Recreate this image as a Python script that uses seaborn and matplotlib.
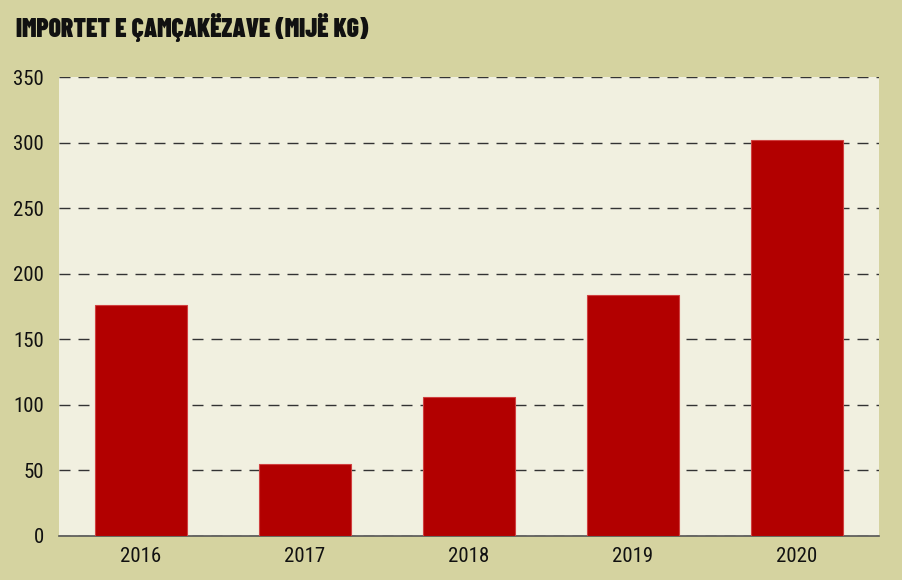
import matplotlib
matplotlib.use("Agg")
import matplotlib.pyplot as plt
import seaborn as sns
import pandas as pd

years = ["2016", "2017", "2018", "2019", "2020"]
values = [176, 55, 106, 184, 302]
yticks = [0, 50, 100, 150, 200, 250, 300, 350]
title = "IMPORTET E ÇAMÇAKËZAVE (MIJË KG)"

sns.set_theme(style="white")
plt.rcParams['font.family'] = ['Roboto Condensed', 'DejaVu Sans']

df = pd.DataFrame({"year": years, "value": values})

fig = plt.figure(figsize=(9.02, 5.80), dpi=100)
fig.patch.set_facecolor("#d5d3a0")
ax = fig.add_axes([0.0654, 0.0759, 0.9091, 0.7913])
ax.set_facecolor("#f1f0e0")

sns.barplot(data=df, x="year", y="value", color="#b20000", width=0.56,
            saturation=1, edgecolor="#d04040", linewidth=0.8, ax=ax, zorder=3)

ax.set_ylim(0, 350)
ax.set_yticks(yticks)
ax.set_yticklabels([str(t) for t in yticks])
lw = 1.0
ax.yaxis.grid(True, linestyle=(0, (11 * 0.72 / lw, 8 * 0.72 / lw)), color="#333333",
              linewidth=lw, zorder=0)
ax.set_axisbelow(True)
ax.set_xlabel("")
ax.set_ylabel("")
for s in ["top", "right", "left"]:
    ax.spines[s].set_visible(False)
ax.spines["bottom"].set_color("#555555")
ax.spines["bottom"].set_linewidth(1.2)
ax.tick_params(axis="both", length=0, labelsize=15, colors="#111111")
ax.tick_params(axis="y", pad=11)
ax.tick_params(axis="x", pad=8)

fig.text(0.018, 0.952, title, fontsize=18.3, fontweight=900, color="#111111",
         va="center", ha="left", family=["Barlow Condensed", "DejaVu Sans"])

fig.savefig("out.png", dpi=100, facecolor=fig.get_facecolor())
